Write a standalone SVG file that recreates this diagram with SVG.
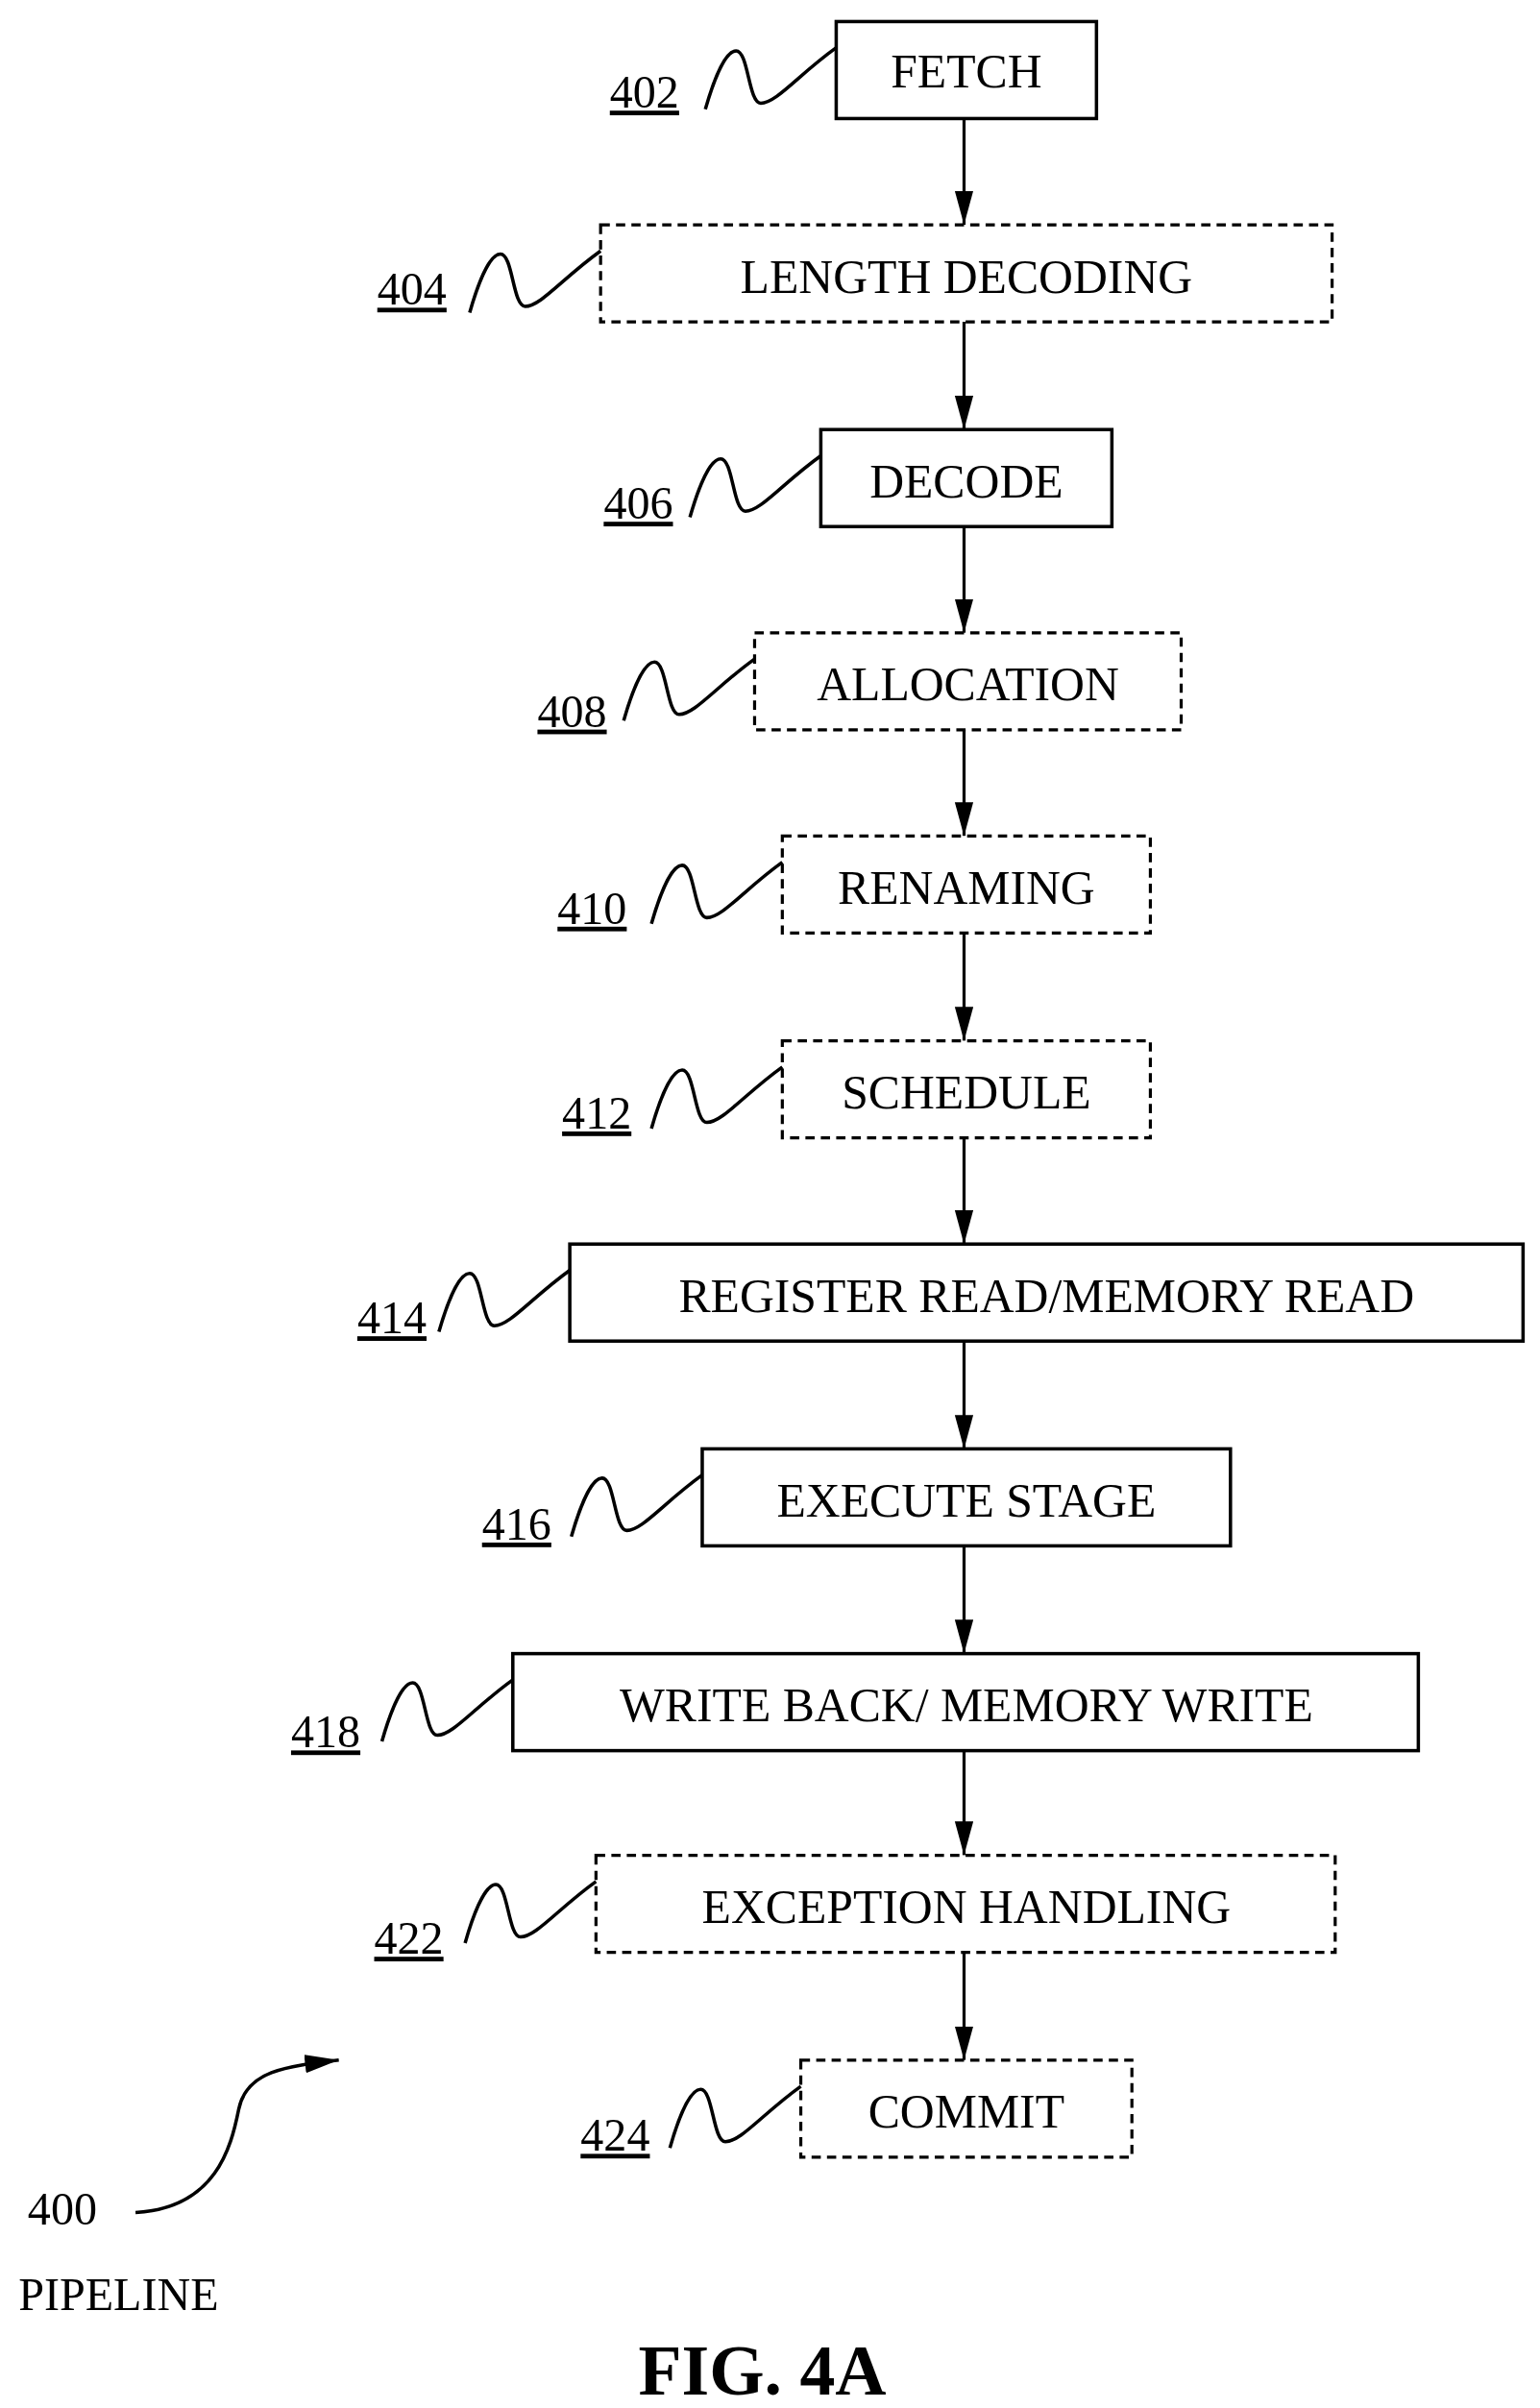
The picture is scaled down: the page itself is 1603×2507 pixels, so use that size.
<svg xmlns="http://www.w3.org/2000/svg" width="1603" height="2507" viewBox="0 0 1603 2507">
<style>
.s{fill:#fff;stroke:#000;stroke-width:2.2}
.d{fill:#fff;stroke:#000;stroke-width:2;stroke-dasharray:6,4}
.t{font-family:"Liberation Serif",serif;font-size:31px;text-anchor:middle}
.n{font-family:"Liberation Serif",serif;font-size:30px;text-decoration:underline}
.p{font-family:"Liberation Serif",serif;font-size:30px}
.q{fill:none;stroke:#000;stroke-width:2.2}
.c{stroke:#000;stroke-width:2;fill:none;marker-end:url(#ah)}
</style>
<defs>
<marker id="ah" markerWidth="24" markerHeight="14" refX="22" refY="6" orient="auto" markerUnits="userSpaceOnUse" viewBox="0 0 24 14"><path d="M0,0 L22,6 L0,12 Z" fill="#000"/></marker>
<path id="sq" class="q" d="M0,0 C4,-14 12,-38 20,-38 C28,-38 28,-4 36,-4 C46,-4 60,-22 85,-40"/>
</defs>
<g transform="scale(1.603)">
<g id="connectors">
<line class="c" x1="626" y1="77" x2="626" y2="146"/>
<line class="c" x1="626" y1="209" x2="626" y2="279"/>
<line class="c" x1="626" y1="342" x2="626" y2="411"/>
<line class="c" x1="626" y1="474" x2="626" y2="543"/>
<line class="c" x1="626" y1="606" x2="626" y2="676"/>
<line class="c" x1="626" y1="739" x2="626" y2="808"/>
<line class="c" x1="626" y1="871" x2="626" y2="941"/>
<line class="c" x1="626" y1="1004" x2="626" y2="1074"/>
<line class="c" x1="626" y1="1137" x2="626" y2="1205"/>
<line class="c" x1="626" y1="1268" x2="626" y2="1338"/>
<path d="M88,1437 C140,1434 150,1395 155,1370 C160,1345 185,1342 220,1338" fill="none" stroke="#000" stroke-width="2.2" marker-end="url(#ah)"/>
</g>
<g id="n402"><rect class="s" x="543" y="14" width="169" height="63"/><text class="t" x="627.5" y="57">FETCH</text><text class="n" x="396" y="70">402</text><use href="#sq" transform="translate(458,71)"/></g>
<g id="n404"><rect class="d" x="390" y="146" width="475" height="63"/><text class="t" x="627.5" y="190">LENGTH DECODING</text><text class="n" x="245" y="198">404</text><use href="#sq" transform="translate(305,203)"/></g>
<g id="n406"><rect class="s" x="533" y="279" width="189" height="63"/><text class="t" x="627.5" y="323">DECODE</text><text class="n" x="392" y="337">406</text><use href="#sq" transform="translate(448,336)"/></g>
<g id="n408"><rect class="d" x="490" y="411" width="277" height="63"/><text class="t" x="628.5" y="455">ALLOCATION</text><text class="n" x="349" y="472">408</text><use href="#sq" transform="translate(405,468)"/></g>
<g id="n410"><rect class="d" x="508" y="543" width="239" height="63"/><text class="t" x="627.5" y="587">RENAMING</text><text class="n" x="362" y="600">410</text><use href="#sq" transform="translate(423,600)"/></g>
<g id="n412"><rect class="d" x="508" y="676" width="239" height="63"/><text class="t" x="627.5" y="720">SCHEDULE</text><text class="n" x="365" y="733">412</text><use href="#sq" transform="translate(423,733)"/></g>
<g id="n414"><rect class="s" x="370" y="808" width="619" height="63"/><text class="t" x="679.5" y="852">REGISTER READ/MEMORY READ</text><text class="n" x="232" y="866">414</text><use href="#sq" transform="translate(285,865)"/></g>
<g id="n416"><rect class="s" x="456" y="941" width="343" height="63"/><text class="t" x="627.5" y="985">EXECUTE STAGE</text><text class="n" x="313" y="1000">416</text><use href="#sq" transform="translate(371,998)"/></g>
<g id="n418"><rect class="s" x="333" y="1074" width="588" height="63"/><text class="t" x="627.5" y="1118">WRITE BACK/ MEMORY WRITE</text><text class="n" x="189" y="1135">418</text><use href="#sq" transform="translate(248,1131)"/></g>
<g id="n422"><rect class="d" x="387" y="1205" width="480" height="63"/><text class="t" x="627.5" y="1249">EXCEPTION HANDLING</text><text class="n" x="243" y="1269">422</text><use href="#sq" transform="translate(302,1262)"/></g>
<g id="n424"><rect class="d" x="520" y="1338" width="215" height="63"/><text class="t" x="627.5" y="1382">COMMIT</text><text class="n" x="377" y="1397">424</text><use href="#sq" transform="translate(435,1395)"/></g>
<text class="p" x="18" y="1445">400</text>
<text class="p" x="12" y="1500">PIPELINE</text>
<text x="495" y="1555" font-family="Liberation Serif,serif" font-size="46" font-weight="bold" text-anchor="middle">FIG. 4A</text>
</g>
</svg>
